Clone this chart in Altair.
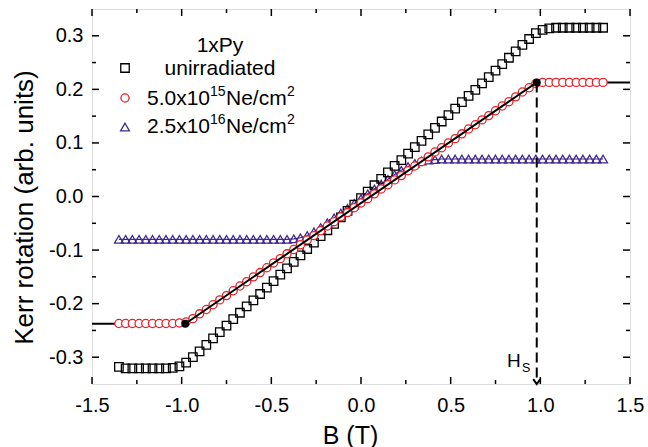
import altair as alt
import pandas as pd

FONT = "Liberation Sans"
BLACK = "#000000"
RED = "#E8202A"
NAVY = "#3F2A8C"

# ---------------- data ----------------
B = [-1.35, -1.3125, -1.275, -1.2375, -1.2, -1.1625, -1.125, -1.0875, -1.05,
     -1.0125, -0.975, -0.9375, -0.9, -0.8625, -0.825, -0.7875, -0.75, -0.7125,
     -0.675, -0.6375, -0.6, -0.5625, -0.525, -0.4875, -0.45, -0.4125, -0.375,
     -0.3375, -0.3, -0.2625, -0.225, -0.1875, -0.15, -0.1125, -0.075, -0.0375,
     0.0, 0.0375, 0.075, 0.1125, 0.15, 0.1875, 0.225, 0.2625, 0.3,
     0.3375, 0.375, 0.4125, 0.45, 0.4875, 0.525, 0.5625, 0.6, 0.6375,
     0.675, 0.7125, 0.75, 0.7875, 0.825, 0.8625, 0.9, 0.9375, 0.975,
     1.0125, 1.05, 1.0875, 1.125, 1.1625, 1.2, 1.2375, 1.275, 1.3125,
     1.35]

unirradiated = [-0.318, -0.321, -0.321, -0.321, -0.321, -0.321, -0.321, -0.321, -0.320,
                -0.317, -0.310, -0.300, -0.289, -0.277, -0.265, -0.253, -0.241, -0.229,
                -0.217, -0.205, -0.194, -0.182, -0.170, -0.158, -0.146, -0.134, -0.122,
                -0.110, -0.098, -0.086, -0.074, -0.063, -0.051, -0.039, -0.027, -0.015,
                -0.003, 0.009, 0.021, 0.033, 0.045, 0.057, 0.068, 0.080, 0.092,
                0.104, 0.116, 0.128, 0.140, 0.152, 0.164, 0.176, 0.188, 0.199,
                0.211, 0.223, 0.235, 0.247, 0.259, 0.271, 0.283, 0.294, 0.305,
                0.311, 0.314, 0.315, 0.315, 0.315, 0.315, 0.315, 0.315, 0.315,
                0.315]

dose_5e15 = [-0.237, -0.237, -0.237, -0.237, -0.237, -0.237, -0.237, -0.237, -0.237,
             -0.236, -0.234, -0.228, -0.219, -0.211, -0.202, -0.193, -0.185, -0.176,
             -0.167, -0.159, -0.150, -0.142, -0.133, -0.124, -0.116, -0.107, -0.099,
             -0.090, -0.081, -0.073, -0.064, -0.055, -0.047, -0.038, -0.030, -0.021,
             -0.012, -0.004, 0.005, 0.014, 0.022, 0.031, 0.039, 0.048, 0.057,
             0.065, 0.074, 0.083, 0.091, 0.100, 0.108, 0.117, 0.126, 0.134,
             0.143, 0.151, 0.160, 0.169, 0.177, 0.186, 0.195, 0.203, 0.211,
             0.213, 0.213, 0.213, 0.213, 0.213, 0.213, 0.213, 0.213, 0.213,
             0.213]

dose_2p5e16 = [-0.080, -0.080, -0.080, -0.080, -0.080, -0.080, -0.080, -0.080, -0.080,
               -0.080, -0.080, -0.080, -0.080, -0.080, -0.080, -0.080, -0.080, -0.080,
               -0.080, -0.080, -0.080, -0.080, -0.080, -0.080, -0.080, -0.080, -0.079,
               -0.077, -0.073, -0.066, -0.058, -0.049, -0.040, -0.031, -0.022, -0.013,
               -0.004, 0.005, 0.014, 0.023, 0.032, 0.041, 0.049, 0.056, 0.062,
               0.066, 0.068, 0.069, 0.070, 0.070, 0.070, 0.070, 0.070, 0.070,
               0.070, 0.070, 0.070, 0.070, 0.070, 0.070, 0.070, 0.070, 0.070,
               0.070, 0.070, 0.070, 0.070, 0.070, 0.070, 0.070, 0.070, 0.070,
               0.070]

# fit line of the 5.0x10^15 sample and its saturation corners
fit_B = [-1.5, -0.98, 0.98, 1.5]
fit_kerr = [-0.2375, -0.2375, 0.213, 0.213]
corner_B = [-0.98, 0.98]
corner_kerr = [-0.2375, 0.213]
hs_B = [0.98]
hs_top = [0.213]
hs_bottom = [-0.35]

x_major = [-1.5, -1.0, -0.5, 0.0, 0.5, 1.0, 1.5]
x_minor = [-1.25, -0.75, -0.25, 0.25, 0.75, 1.25]
y_major = [-0.3, -0.2, -0.1, 0.0, 0.1, 0.2, 0.3]
y_minor = [-0.25, -0.15, -0.05, 0.05, 0.15, 0.25]

# ---------------- layout ----------------
W, H = 538, 375
SQ_SIZE, CI_SIZE, TR_SIZE = 72, 66, 78
MSW = 1.3

df = pd.DataFrame({"B": B, "sq": unirradiated, "ci": dose_5e15, "tr": dose_2p5e16})
fit = pd.DataFrame({"B": fit_B, "k": fit_kerr})
slope = pd.DataFrame({"B": fit_B[1:3], "k": fit_kerr[1:3]})
corners = pd.DataFrame({"B": corner_B, "k": corner_kerr})
hs = pd.DataFrame({"B": hs_B, "top": hs_top, "bottom": hs_bottom})

xscale = alt.Scale(domain=[-1.5, 1.5], nice=False, zero=False)
yscale = alt.Scale(domain=[-0.35, 0.35], nice=False, zero=False)

lab_expr = "replace(format(datum.value, '.1f'), '\u2212', '-')"

xaxis = alt.Axis(values=x_major, ticks=False, domain=False, grid=False,
                 labelFont=FONT, labelFontSize=20, labelColor=BLACK, labelPadding=11,
                 labelExpr=lab_expr, labelFlush=False, labelOverlap=False,
                 title="B (T)", titleFont=FONT, titleFontSize=25, titleFontWeight="normal",
                 titleColor=BLACK, titleX=258, titleY=59, titleAlign="center",
                 titleBaseline="alphabetic")
yaxis = alt.Axis(values=y_major, ticks=False, domain=False, grid=False,
                 labelFont=FONT, labelFontSize=20, labelColor=BLACK, labelPadding=9,
                 labelExpr=lab_expr, labelFlush=False, labelOverlap=False,
                 title="Kerr rotation (arb. units)", titleFont=FONT, titleFontSize=26,
                 titleFontWeight="normal", titleColor=BLACK, titleAngle=270,
                 titleX=-60, titleY=198, titleAlign="center", titleBaseline="alphabetic")


def X(f):
    return alt.X(f, type="quantitative", scale=xscale, axis=xaxis)


def Y(f):
    return alt.Y(f, type="quantitative", scale=yscale, axis=yaxis)


base = alt.Chart(df)

tri_line = base.mark_line(color=NAVY, strokeWidth=1.2).encode(x=X("B"), y=Y("tr"))
fit_line = alt.Chart(fit).mark_line(color=BLACK, strokeWidth=2, clip=True).encode(x=X("B"), y=Y("k"))
tris = base.mark_point(shape="triangle-up", size=TR_SIZE, filled=False, color=NAVY,
                       strokeWidth=MSW, opacity=1).encode(x=X("B"), y=Y("tr"))
squares = base.mark_point(shape="square", size=SQ_SIZE, filled=False, color=BLACK,
                          strokeWidth=MSW, opacity=1).encode(x=X("B"), y=Y("sq"))
circles = base.mark_point(shape="circle", size=CI_SIZE, filled=True, fill="white",
                          stroke=RED, strokeWidth=MSW, opacity=1, fillOpacity=1
                          ).encode(x=X("B"), y=Y("ci"))
slope_line = alt.Chart(slope).mark_line(color=BLACK, strokeWidth=2).encode(x=X("B"), y=Y("k"))
dots = alt.Chart(corners).mark_point(shape="circle", size=64, filled=True, color=BLACK,
                                     opacity=1).encode(x=X("B"), y=Y("k"))
hs_rule = alt.Chart(hs).mark_rule(color=BLACK, strokeWidth=2, strokeDash=[10, 5]).encode(
    x=X("B"), y=Y("top"), y2="bottom")
hs_arrow = alt.Chart(hs).mark_point(shape="M-1,-1.4L0,0L1,-1.4", size=50, filled=False,
                                    color=BLACK, strokeWidth=2, opacity=1).encode(
    x=X("B"), y=Y("bottom"))


# inward ticks on all four sides
def xticks(vals, L):
    d = alt.Chart(pd.DataFrame({"v": vals}))
    bot = d.mark_rule(color=BLACK, strokeWidth=1.5).encode(
        x=X("v"), y=alt.value(H), y2=alt.value(H - L))
    top = d.mark_rule(color=BLACK, strokeWidth=1.5).encode(
        x=X("v"), y=alt.value(0), y2=alt.value(L))
    return [bot, top]


def yticks(vals, L):
    d = alt.Chart(pd.DataFrame({"v": vals}))
    left = d.mark_rule(color=BLACK, strokeWidth=1.5).encode(
        y=Y("v"), x=alt.value(0), x2=alt.value(L))
    right = d.mark_rule(color=BLACK, strokeWidth=1.5).encode(
        y=Y("v"), x=alt.value(W), x2=alt.value(W - L))
    return [left, right]


ticks = xticks(x_major, 7) + xticks(x_minor, 4) + yticks(y_major, 7) + yticks(y_minor, 4)

one = pd.DataFrame({"k": [0]})


def txt(s, x, y, size, align="left"):
    return alt.Chart(one).mark_text(text=s, font=FONT, fontSize=size, align=align,
                                    baseline="alphabetic", color=BLACK).encode(
        x=alt.value(x), y=alt.value(y))


def sym(shape, x, y, **kw):
    return alt.Chart(one).mark_point(shape=shape, opacity=1, strokeWidth=MSW, **kw).encode(
        x=alt.value(x), y=alt.value(y))


legend = [
    txt("1xPy", 128, 43, 21, "center"),
    txt("unirradiated", 128, 66, 21, "center"),
    sym("square", 33, 59, size=SQ_SIZE, filled=False, color=BLACK),
    sym("circle", 33, 89, size=CI_SIZE, filled=False, color=RED),
    txt("5.0x10", 55, 96, 21),
    txt("15", 118, 87, 14),
    txt("Ne/cm", 134, 96, 21),
    txt("2", 195, 87, 14),
    sym("triangle-up", 33, 118, size=TR_SIZE, filled=False, color=NAVY),
    txt("2.5x10", 55, 124, 21),
    txt("16", 118, 115, 14),
    txt("Ne/cm", 134, 124, 21),
    txt("2", 195, 115, 14),
    txt("H", 415, 358, 19),
    txt("S", 430, 363, 12.5),
]

chart = alt.layer(
    tri_line, fit_line, tris, squares, circles, slope_line, dots, hs_rule, hs_arrow,
    *ticks, *legend
).properties(
    width=W, height=H,
    autosize=alt.AutoSizeParams(type="none"),
    padding={"left": 92, "top": 9, "right": 18, "bottom": 63},
    background="white",
).configure_view(stroke=BLACK, strokeWidth=1.6).configure(font=FONT)

chart.save("out.html", embed_options={"renderer": "svg", "actions": False})
